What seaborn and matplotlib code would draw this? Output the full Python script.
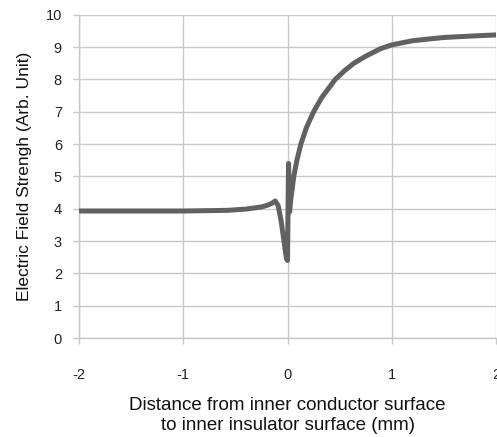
import matplotlib

matplotlib.use("Agg")
import matplotlib.pyplot as plt
import pandas as pd
import seaborn as sns

# distance (mm) and field strength (arb. unit)
distance = [-2.0, -1.5, -1.0, -0.8, -0.58, -0.4, -0.26, -0.2, -0.15, -0.118,
            -0.09, -0.06, -0.03, -0.01, 0.0, 0.005, 0.01, 0.015, 0.02, 0.03,
            0.06, 0.09, 0.128, 0.18, 0.25, 0.33, 0.4, 0.457, 0.55, 0.635,
            0.75, 0.89, 1.0, 1.2, 1.5, 1.8, 2.0]
field = [3.93, 3.93, 3.93, 3.94, 3.95, 3.99, 4.05, 4.1, 4.17, 4.24,
         4.1, 3.6, 2.9, 2.45, 2.4, 4.0, 5.4, 4.6, 3.9, 4.25,
         5.0, 5.5, 6.0, 6.5, 7.0, 7.45, 7.75, 8.0, 8.28, 8.5,
         8.72, 8.95, 9.07, 9.2, 9.3, 9.35, 9.38]

x_ticks = [-2, -1, 0, 1, 2]
y_ticks = list(range(0, 11))

sns.set_style("white")
plt.rcParams["font.family"] = ["Liberation Sans", "DejaVu Sans"]
plt.rcParams["axes.unicode_minus"] = False

df = pd.DataFrame({"x": distance, "y": field})

fig = plt.figure(figsize=(4.97, 4.37), dpi=100)
ax = fig.add_axes([0.159, 0.2265, 0.839, 0.7395])

sns.lineplot(data=df, x="x", y="y", sort=False, color="#616161",
             linewidth=3.6, ax=ax, zorder=3)

ax.set_xlim(-2, 2)
ax.set_ylim(0, 10)
ax.set_xticks(x_ticks)
ax.set_yticks(y_ticks)
ax.grid(True, color="#c8c8c8", linewidth=1.0)
for side in ["top", "right"]:
    ax.spines[side].set_visible(False)
for side in ["left", "bottom"]:
    ax.spines[side].set_color("#c8c8c8")
    ax.spines[side].set_linewidth(1.0)

ax.tick_params(axis="both", direction="out", length=4.3, width=1.0,
               color="#c8c8c8", labelsize=10.5, labelcolor="#222222")
ax.tick_params(axis="x", pad=17)
ax.tick_params(axis="y", pad=8)
ax.xaxis.set_ticks_position("bottom")
ax.yaxis.set_ticks_position("left")

ax.set_xlabel("Distance from inner conductor surface\nto inner insulator surface (mm)",
              fontsize=13.5, labelpad=11, linespacing=1.22, color="#111111")
ax.set_ylabel("Electric Field Strengh (Arb. Unit)", fontsize=12.5,
              labelpad=10, color="#111111")

fig.savefig("out.png", dpi=100)
